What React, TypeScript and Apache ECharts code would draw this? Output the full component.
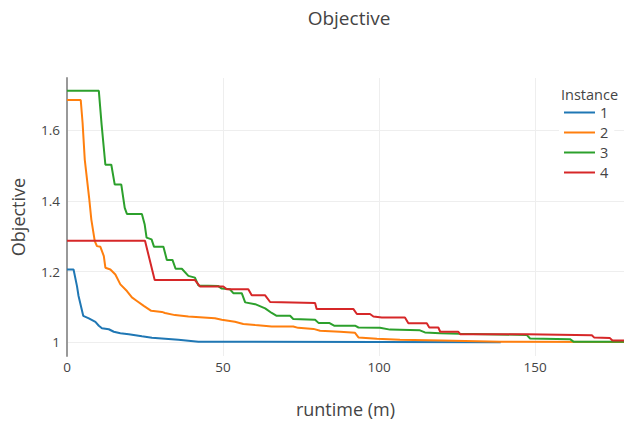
import React, { useEffect, useRef } from "react";
import * as echarts from "echarts";

const instanceNames = ["1", "2", "3", "4"];
const colors = ["#1f77b4", "#ff7f0e", "#2ca02c", "#d62728"];

const xTicks = [0, 50, 100, 150];
const yTicks = [1, 1.2, 1.4, 1.6];

const instance1: [number, number][] = [
  [0, 1.206], [2.1, 1.206], [3.2, 1.159], [3.7, 1.131], [5.2, 1.075], [7.0, 1.068],
  [9.1, 1.058], [10.2, 1.047], [11.2, 1.040], [13.4, 1.037], [15.0, 1.030], [17.1, 1.026],
  [19.8, 1.023], [24.0, 1.017], [27.2, 1.013], [30.4, 1.011], [35.7, 1.007], [42.1, 1.002],
  [139, 1.0],
];

const instance2: [number, number][] = [
  [0, 1.685], [4.4, 1.685], [5.0, 1.62], [5.7, 1.516], [7.1, 1.408], [7.8, 1.347],
  [8.9, 1.286], [9.6, 1.272], [10.7, 1.27], [11.8, 1.244], [12.3, 1.211], [13.9, 1.206],
  [15.5, 1.192], [17.1, 1.164], [19.2, 1.145], [20.8, 1.127], [22.4, 1.117], [24.6, 1.103],
  [27.0, 1.089], [30.4, 1.086], [31.4, 1.083], [34.6, 1.077], [38.9, 1.073], [47.4, 1.068],
  [49.6, 1.064], [53.8, 1.058], [56.5, 1.052], [60.3, 1.049], [65.6, 1.045], [72.5, 1.045],
  [74.1, 1.041], [79.0, 1.038], [81.1, 1.033], [87.5, 1.030], [92.3, 1.027], [93.4, 1.014],
  [99.3, 1.010], [106.7, 1.007], [120, 1.005], [138.8, 1.002], [178.5, 1.001],
];

const instance3: [number, number][] = [
  [0, 1.711], [10.2, 1.711], [11.1, 1.615], [12.3, 1.502], [14.2, 1.502], [15.3, 1.446],
  [17.4, 1.446], [18.5, 1.38], [19.2, 1.363], [24.0, 1.363], [24.9, 1.333], [25.5, 1.296],
  [27.1, 1.291], [27.9, 1.27], [30.9, 1.27], [32.0, 1.233], [33.8, 1.233], [34.8, 1.208],
  [36.8, 1.208], [38.9, 1.188], [41.0, 1.183], [42.1, 1.161], [48.5, 1.159], [49.6, 1.152],
  [52.2, 1.15], [53.3, 1.139], [56.0, 1.139], [57.1, 1.113], [60.3, 1.108], [63.5, 1.096],
  [65.6, 1.083], [67.2, 1.075], [71.5, 1.075], [72.5, 1.066], [79.5, 1.064], [80.6, 1.055],
  [84.0, 1.055], [85.6, 1.047], [92.3, 1.047], [93.4, 1.042], [100.3, 1.041], [103.5, 1.036],
  [113.1, 1.034], [114.7, 1.028], [119.6, 1.026], [126.0, 1.024], [147.3, 1.021], [148.4, 1.011],
  [161.2, 1.009], [162.3, 1.002], [178.5, 1.002],
];

const instance4: [number, number][] = [
  [0, 1.287], [25.0, 1.287], [28.1, 1.176], [41.0, 1.176], [42.6, 1.158], [50.1, 1.158],
  [51.2, 1.15], [58.1, 1.15], [59.2, 1.133], [63.5, 1.133], [65.1, 1.114], [79.5, 1.111],
  [80.0, 1.094], [91.8, 1.094], [92.9, 1.08], [97.1, 1.08], [98.2, 1.073], [100.9, 1.07],
  [108.3, 1.07], [109.4, 1.054], [115.3, 1.054], [116.1, 1.042], [119.0, 1.042], [119.6, 1.03],
  [125.4, 1.03], [126.0, 1.023], [147.3, 1.023], [168.2, 1.02], [168.9, 1.014], [174.0, 1.012],
  [174.8, 1.005], [178.5, 1.005],
];

const seriesData = [instance1, instance2, instance3, instance4];

const FONT = '"Open Sans", "DejaVu Sans", sans-serif';

export default function App() {
  const ref = useRef<HTMLDivElement>(null);
  useEffect(() => {
    document.body.style.margin = "0";
    if (!ref.current) return;
    const chart = echarts.init(ref.current, undefined, { renderer: "svg" });
    chart.setOption({
      animation: false,
      backgroundColor: "#ffffff",
      textStyle: { fontFamily: FONT },
      grid: { left: 67, right: 0, top: 78, height: 279, containLabel: false },
      xAxis: {
        type: "value",
        min: 0,
        max: 178.5,
        name: "runtime (m)",
        nameLocation: "middle",
        nameGap: 44,
        nameTextStyle: { fontSize: 18, color: "#444", fontFamily: FONT },
        axisLine: { show: false },
        axisTick: { show: false, customValues: xTicks },
        axisLabel: { customValues: xTicks, fontSize: 13.5, color: "#444", margin: 4, fontFamily: FONT },
        splitLine: { show: true, lineStyle: { color: "#eeeeee", width: 1 } },
      },
      yAxis: {
        type: "value",
        min: 0.9614,
        max: 1.7473,
        name: "Objective",
        nameLocation: "middle",
        nameGap: 40,
        nameTextStyle: { fontSize: 18, color: "#444", fontFamily: FONT },
        axisLine: { show: true, onZero: false, lineStyle: { color: "#999999", width: 2 } },
        axisTick: { show: false, customValues: yTicks },
        axisLabel: {
          customValues: yTicks,
          fontSize: 13.5,
          color: "#444",
          margin: 7,
          fontFamily: FONT,
          formatter: (v: number) => (Math.abs(v - 1) < 1e-9 ? "1" : v.toFixed(1)),
        },
        splitLine: { show: true, lineStyle: { color: "#eeeeee", width: 1 } },
      },
      legend: {
        orient: "vertical",
        left: 559,
        top: 82,
        padding: [23, 6, 8, 5],
        backgroundColor: "#ffffff",
        icon: "rect",
        itemWidth: 31,
        itemHeight: 2,
        itemGap: 5,
        textStyle: { fontSize: 14.5, color: "#444", fontFamily: FONT },
        data: instanceNames,
      },
      graphic: [
        {
          type: "text",
          x: 349,
          y: 18,
          z: 100,
          style: { text: "Objective", fontSize: 19, fill: "#444", fontFamily: FONT, textAlign: "center", textVerticalAlign: "middle" },
        },
        {
          type: "text",
          x: 561,
          y: 94,
          z: 100,
          style: { text: "Instance", fontSize: 14.5, fill: "#444", fontFamily: FONT, textAlign: "left", textVerticalAlign: "middle" },
        },
      ],
      series: seriesData.map((d, i) => ({
        name: instanceNames[i],
        type: "line",
        data: d,
        showSymbol: false,
        symbol: "none",
        color: colors[i],
        lineStyle: { width: 2, color: colors[i] },
        clip: true,
      })),
    });
    return () => chart.dispose();
  }, []);
  return <div ref={ref} style={{ position: "fixed", left: 0, top: 0, width: 624, height: 423 }} />;
}
